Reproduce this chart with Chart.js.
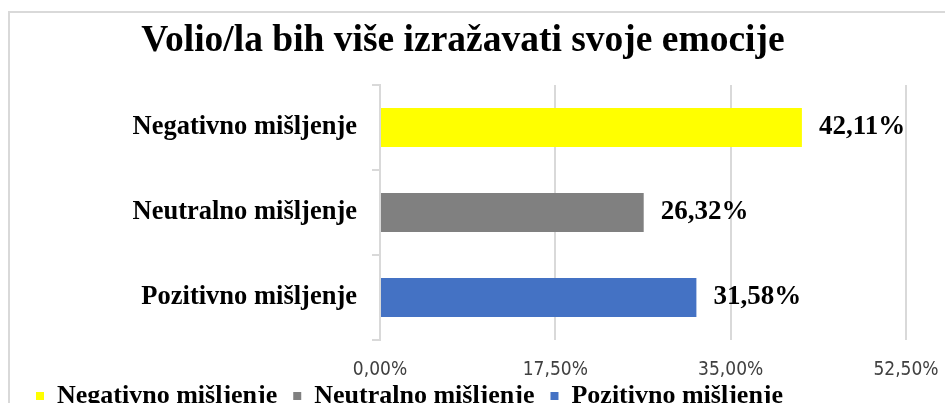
<!DOCTYPE html>
<html lang="hr">
<head>
<meta charset="UTF-8">
<title>Volio/la bih više izražavati svoje emocije</title>
<script src="https://cdn.jsdelivr.net/npm/chart.js@4.4.0/dist/chart.umd.min.js"></script>
<style>
    * { margin: 0; padding: 0; box-sizing: border-box; }
    html, body { width: 945px; height: 403px; overflow: hidden; background: #fff; }
    .frame {
        position: absolute; left: 8px; top: 11px;
        width: 1200px; height: 1200px;
        border: 2px solid #d9d9d9;
    }
    .chart-box { position: absolute; left: 0; top: 0; width: 945px; height: 419px; }
</style>
</head>
<body>
<div class="frame"></div>
<div class="chart-box"><canvas id="chart"></canvas></div>
<script>
    // Data
    const categories = ['Negativno mišljenje', 'Neutralno mišljenje', 'Pozitivno mišljenje'];
    const values = [42.11, 26.32, 31.58];
    const barColors = ['#ffff00', '#808080', '#4472c4'];
    const xTicks = [0, 17.5, 35, 52.5];
    const chartTitle = 'Volio/la bih više izražavati svoje emocije';

    const serif = "'Liberation Serif', 'Times New Roman', serif";
    const narrow = "'DejaVu Sans Condensed', 'Arial Narrow', sans-serif";
    const fmt = v => v.toFixed(2).replace('.', ',') + '%';

    // value labels right of each bar
    const valueLabels = {
        id: 'valueLabels',
        afterLayout(chart) {
            // x axis was squeezed so the legend sits close; give the labels room again
            const s = chart.scales.x;
            s.bottom = s.top + 50;
            s.height = 50;
        },
        afterDatasetsDraw(chart) {
            const ctx = chart.ctx;
            ctx.save();
            ctx.font = 'bold 27px ' + serif;
            ctx.fillStyle = '#000';
            ctx.textBaseline = 'middle';
            ctx.textAlign = 'left';
            chart.getDatasetMeta(0).data.forEach((bar, i) => {
                ctx.fillText(fmt(values[i]), bar.x + 17, bar.y);
            });
            ctx.restore();
        }
    };

    new Chart(document.getElementById('chart'), {
        type: 'bar',
        data: {
            labels: categories,
            datasets: [{
                data: values,
                backgroundColor: barColors,
                borderWidth: 0,
                barPercentage: 0.46,
                categoryPercentage: 1
            }]
        },
        options: {
            indexAxis: 'y',
            responsive: true,
            maintainAspectRatio: false,
            animation: false,
            layout: { padding: { left: 20, right: 39, top: 0, bottom: 0 } },
            scales: {
                x: {
                    min: 0,
                    max: 52.5,
                    afterBuildTicks: s => { s.ticks = xTicks.map(v => ({ value: v })); },
                    afterFit: s => {
                        s.paddingLeft = 0;
                        s.paddingRight = 0;
                        s.height = 27;
                    },
                    grid: { color: '#d9d9d9', lineWidth: 2, drawTicks: false },
                    border: { display: false },
                    ticks: {
                        font: { family: narrow, size: 19 },
                        color: '#404040',
                        padding: 19,
                        callback: v => fmt(v)
                    }
                },
                y: {
                    afterFit: s => { s.width = 360; },
                    grid: {
                        offset: true,
                        drawOnChartArea: false,
                        drawTicks: true,
                        tickLength: 8,
                        color: '#d9d9d9',
                        lineWidth: 2
                    },
                    border: { display: true, color: '#d9d9d9', width: 2 },
                    ticks: {
                        font: { family: serif, size: 26.5, weight: 'bold' },
                        color: '#000',
                        padding: 15
                    }
                }
            },
            plugins: {
                title: {
                    display: true,
                    text: chartTitle,
                    color: '#000',
                    font: { family: serif, size: 37.5, weight: 'bold' },
                    padding: { top: 19, bottom: 21 }
                },
                legend: {
                    position: 'bottom',
                    align: 'start',
                    labels: {
                        boxWidth: 8,
                        boxHeight: 8,
                        padding: 16,
                        color: '#000',
                        font: { family: serif, size: 26, weight: 'bold' },
                        generateLabels: () => categories.map((c, i) => ({
                            text: c,
                            fillStyle: barColors[i],
                            strokeStyle: barColors[i],
                            lineWidth: 0,
                            hidden: false,
                            index: i
                        }))
                    }
                },
                tooltip: { enabled: false }
            }
        },
        plugins: [valueLabels]
    });
</script>
</body>
</html>
